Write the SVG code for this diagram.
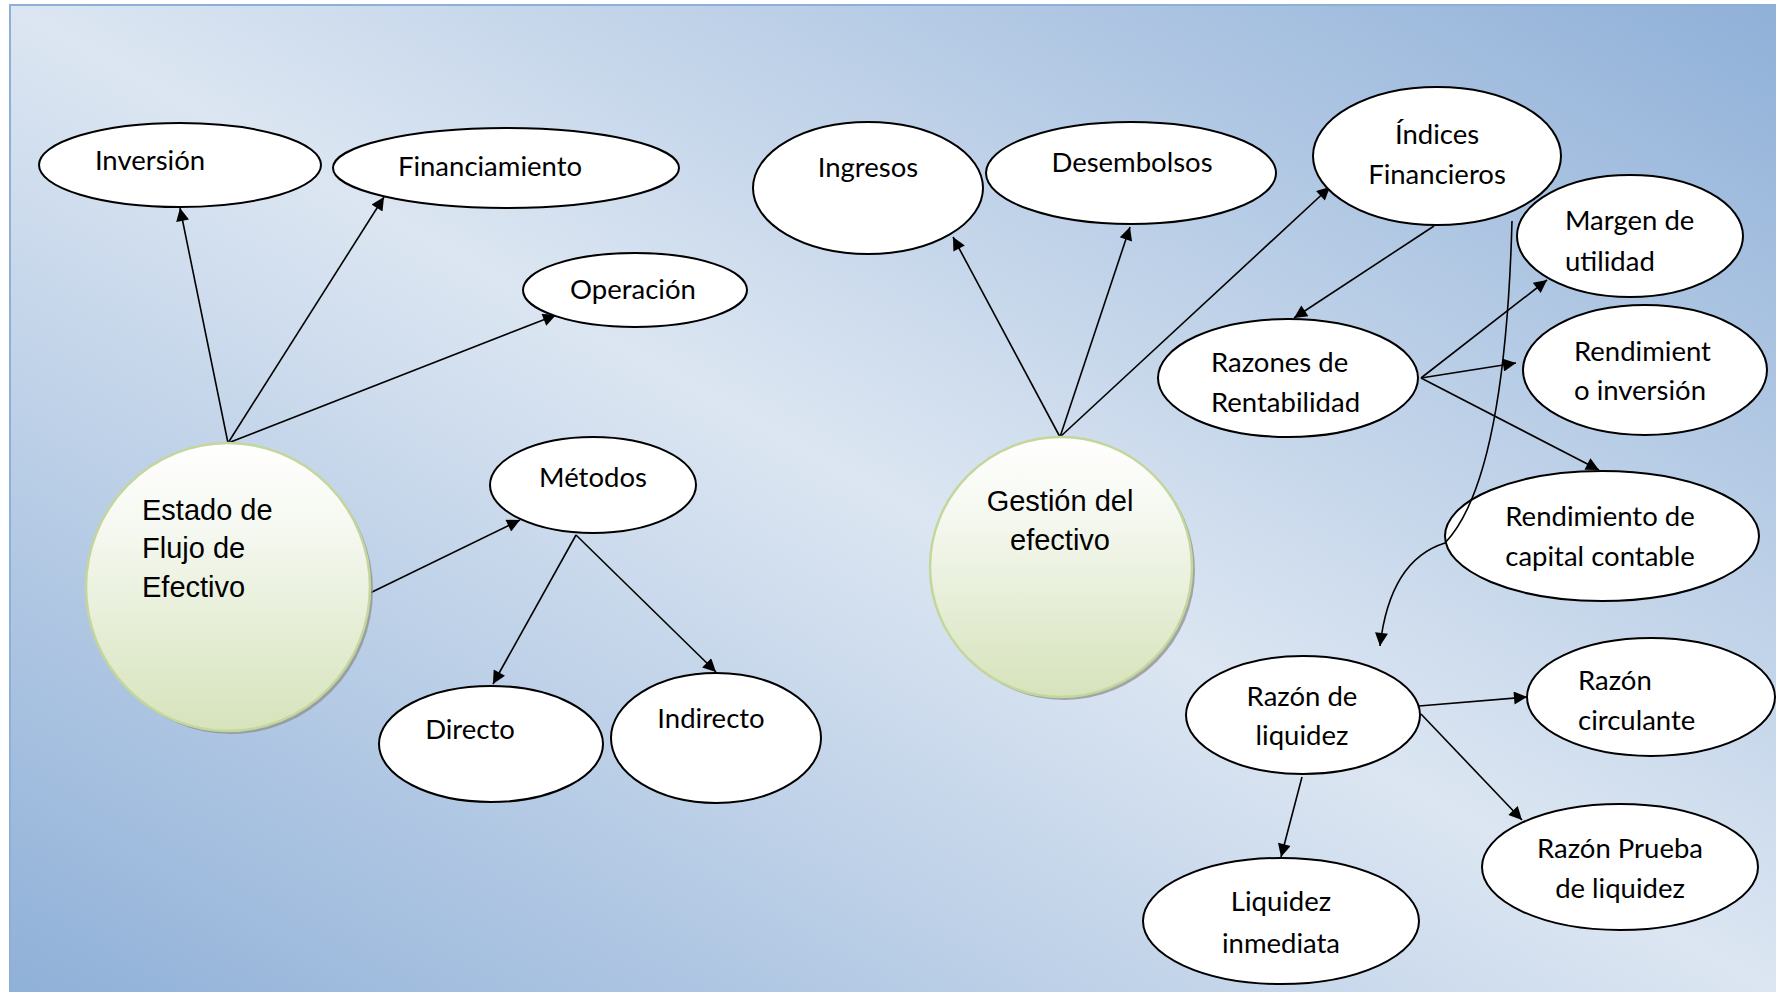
<svg xmlns="http://www.w3.org/2000/svg" width="1776" height="992" viewBox="0 0 1776 992">
<defs>
<linearGradient id="bg" gradientUnits="userSpaceOnUse" x1="466" y1="1252" x2="1310" y2="-260">
<stop offset="0" stop-color="#8fb0d8"/>
<stop offset="0.5" stop-color="#dce6f2"/>
<stop offset="1" stop-color="#8fb0d8"/>
</linearGradient>
<linearGradient id="green" x1="0" y1="0" x2="0" y2="1">
<stop offset="0" stop-color="#ffffff"/>
<stop offset="0.3" stop-color="#f5f8f0"/>
<stop offset="1" stop-color="#d6e3bb"/>
</linearGradient>
<marker id="arr" viewBox="0 0 10 10" refX="10" refY="5" markerWidth="17" markerHeight="13" markerUnits="userSpaceOnUse" orient="auto">
<path d="M0,0 L10,5 L0,10 z" fill="#000"/>
</marker>
</defs>
<style>
.node{fill:#fff;stroke:#000;stroke-width:2}
.big{fill:url(#green);stroke:#c3d69b;stroke-width:2.5}
.shadow{fill:#8f8f8f;opacity:0.75}
.t{font-family:Lato,"Open Sans",sans-serif;font-size:27.5px;fill:#000}
.m{text-anchor:middle}
.a{font-family:"Liberation Sans",Arial,sans-serif;font-size:29px;fill:#000}
.c line,.c path{stroke:#000;stroke-width:1.6;fill:none;marker-end:url(#arr)}
</style>
<rect x="0" y="0" width="1776" height="992" fill="#fff"/>
<rect x="10" y="5" width="1780" height="1000" fill="url(#bg)" stroke="#8eb0d8" stroke-width="2"/>

<g class="c" id="connectors">
<line x1="228" y1="443" x2="180" y2="208"/>
<line x1="228" y1="443" x2="384" y2="197"/>
<line x1="228" y1="443" x2="556" y2="315"/>
<line x1="370" y1="593" x2="520" y2="520"/>
<line x1="576" y1="535" x2="493" y2="684"/>
<line x1="576" y1="535" x2="716" y2="672"/>
<line x1="1060" y1="437" x2="953" y2="237"/>
<line x1="1060" y1="437" x2="1130" y2="227"/>
<line x1="1060" y1="437" x2="1330" y2="187"/>
<line x1="1434" y1="226" x2="1294" y2="318"/>
<line x1="1421" y1="378" x2="1547" y2="280"/>
<line x1="1421" y1="378" x2="1516" y2="363"/>
<line x1="1421" y1="378" x2="1599" y2="470"/>
<line x1="1419" y1="706" x2="1527" y2="697"/>
<line x1="1421" y1="714" x2="1522" y2="820"/>
<line x1="1302" y1="777" x2="1281" y2="857"/>
</g>

<g id="estado">
<ellipse class="shadow" cx="231" cy="590" rx="142" ry="144"/>
<ellipse class="big" cx="228" cy="587" rx="142" ry="144"/>
<text class="a" x="142" y="520">Estado de</text>
<text class="a" x="142" y="558">Flujo de</text>
<text class="a" x="142" y="597">Efectivo</text>
</g>
<g id="inversion"><ellipse class="node" cx="180" cy="165" rx="141" ry="42"/><text class="t m" x="150" y="170">Inversión</text></g>
<g id="financiamiento"><ellipse class="node" cx="506" cy="168" rx="173" ry="40"/><text class="t m" x="490" y="176">Financiamiento</text></g>
<g id="operacion"><ellipse class="node" cx="635" cy="290" rx="112" ry="37"/><text class="t m" x="633" y="299">Operación</text></g>
<g id="metodos"><ellipse class="node" cx="593" cy="485" rx="103" ry="48"/><text class="t m" x="593" y="487">Métodos</text></g>
<g id="directo"><ellipse class="node" cx="491" cy="744" rx="112" ry="58"/><text class="t m" x="470" y="739">Directo</text></g>
<g id="indirecto"><ellipse class="node" cx="716" cy="738" rx="105" ry="65"/><text class="t m" x="711" y="728">Indirecto</text></g>

<g id="gestion">
<ellipse class="shadow" cx="1064" cy="570" rx="131" ry="130"/>
<ellipse class="big" cx="1061" cy="567" rx="131" ry="130"/>
<text class="a m" x="1060" y="511">Gestión del</text>
<text class="a m" x="1060" y="550">efectivo</text>
</g>
<g id="ingresos"><ellipse class="node" cx="868" cy="188" rx="115" ry="66"/><text class="t m" x="868" y="177">Ingresos</text></g>
<g id="desembolsos"><ellipse class="node" cx="1131" cy="173" rx="145" ry="51"/><text class="t m" x="1132" y="172">Desembolsos</text></g>
<g id="indices"><ellipse class="node" cx="1437" cy="156" rx="124" ry="69"/><text class="t m" x="1437" y="144">Índices</text><text class="t m" x="1437" y="184">Financieros</text></g>
<g id="margen"><ellipse class="node" cx="1630" cy="236" rx="113" ry="61"/><text class="t" x="1565" y="230">Margen de</text><text class="t" x="1565" y="271">utilidad</text></g>
<g id="razones"><ellipse class="node" cx="1288" cy="378" rx="130" ry="59"/><text class="t" x="1211" y="372">Razones de</text><text class="t" x="1211" y="412">Rentabilidad</text></g>
<g id="rendimiento-inv"><ellipse class="node" cx="1645" cy="370" rx="122" ry="65"/><text class="t" x="1574" y="361">Rendimient</text><text class="t" x="1574" y="400">o inversión</text></g>
<g id="rendimiento-cap"><ellipse class="node" cx="1602" cy="536" rx="157" ry="65"/><text class="t m" x="1600" y="526">Rendimiento de</text><text class="t m" x="1600" y="566">capital contable</text></g>
<g id="razon-liquidez"><ellipse class="node" cx="1303" cy="715" rx="117" ry="59"/><text class="t m" x="1302" y="706">Razón de</text><text class="t m" x="1302" y="745">liquidez</text></g>
<g id="razon-circulante"><ellipse class="node" cx="1651" cy="697" rx="124" ry="59"/><text class="t" x="1578" y="690">Razón</text><text class="t" x="1578" y="730">circulante</text></g>
<g id="razon-prueba"><ellipse class="node" cx="1620" cy="867" rx="138" ry="63"/><text class="t m" x="1620" y="858">Razón Prueba</text><text class="t m" x="1620" y="898">de liquidez</text></g>
<g id="liquidez-inmediata"><ellipse class="node" cx="1281" cy="921" rx="138" ry="63"/><text class="t m" x="1281" y="911">Liquidez</text><text class="t m" x="1281" y="953">inmediata</text></g>

<g class="c" id="connector-curve">
<path d="M1512,221 Q1505,480 1445,543 Q1390,560 1380,646"/>
</g>
</svg>
